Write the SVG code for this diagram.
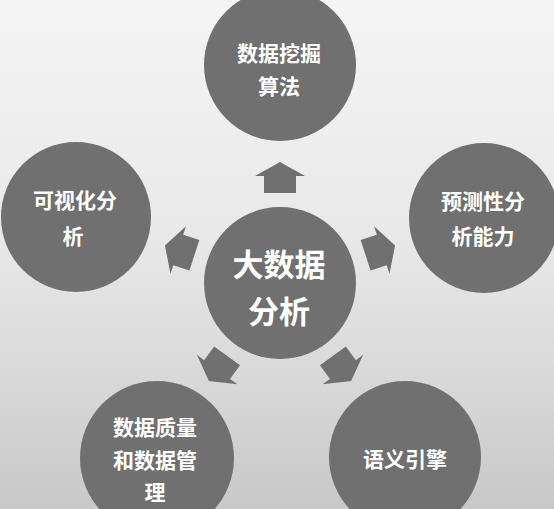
<svg xmlns="http://www.w3.org/2000/svg" width="554" height="509" viewBox="0 0 554 509">
  <defs>
    <linearGradient id="bg" x1="0" y1="0" x2="0" y2="1">
      <stop offset="0" stop-color="#f4f4f4"/>
      <stop offset="0.45" stop-color="#e9e9e9"/>
      <stop offset="0.78" stop-color="#d6d6d6"/>
      <stop offset="1" stop-color="#c8c8c8"/>
    </linearGradient>
    <path id="arrow" d="M280,162 L305,176 L296,176 L296,193 L264,193 L264,176 L255,176 Z"/>
    <style>
      .node { fill: #707070; }
      .arrow { fill: #707070; }
      text { font-family: "Noto Sans CJK SC", "Noto Sans", sans-serif; font-weight: bold; fill: #ffffff; text-anchor: middle; dominant-baseline: central; }
      .sm { font-size: 21px; }
      .lg { font-size: 31px; }
    </style>
  </defs>
  <rect x="0" y="0" width="554" height="509" fill="url(#bg)"/>

  <g id="connectors">
    <use href="#arrow" class="arrow"/>
    <use href="#arrow" class="arrow" transform="rotate(72 280 283)"/>
    <use href="#arrow" class="arrow" transform="rotate(144 280 283)"/>
    <use href="#arrow" class="arrow" transform="rotate(216 280 283)"/>
    <use href="#arrow" class="arrow" transform="rotate(288 280 283)"/>
  </g>

  <g id="center">
    <circle class="node" cx="280" cy="283" r="76"/>
    <text class="lg" x="279" y="262">大数据</text>
    <text class="lg" x="279" y="309">分析</text>
  </g>

  <g id="mining">
    <circle class="node" cx="280" cy="65" r="76"/>
    <text class="sm" x="279" y="52">数据挖掘</text>
    <text class="sm" x="279" y="85">算法</text>
  </g>

  <g id="predict">
    <circle class="node" cx="484" cy="218" r="75"/>
    <text class="sm" x="483" y="200">预测性分</text>
    <text class="sm" x="483" y="235">析能力</text>
  </g>

  <g id="semantic">
    <circle class="node" cx="405" cy="457" r="76"/>
    <text class="sm" x="405" y="458">语义引擎</text>
  </g>

  <g id="quality">
    <circle class="node" cx="157" cy="458" r="77"/>
    <text class="sm" x="155" y="426">数据质量</text>
    <text class="sm" x="155" y="459">和数据管</text>
    <text class="sm" x="155" y="491">理</text>
  </g>

  <g id="visual">
    <circle class="node" cx="76" cy="217" r="75"/>
    <text class="sm" x="75" y="199">可视化分</text>
    <text class="sm" x="73" y="235">析</text>
  </g>
</svg>
